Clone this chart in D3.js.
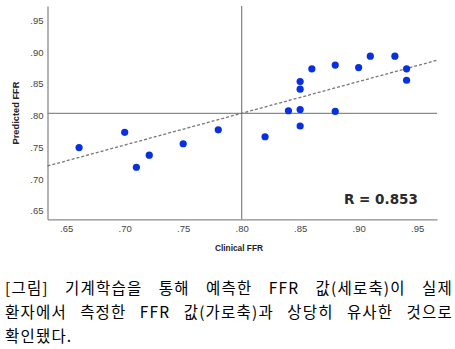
<!DOCTYPE html>
<html><head><meta charset="utf-8">
<script src="https://cdn.jsdelivr.net/npm/d3@7"></script>
<style>
html,body{margin:0;padding:0;background:#fff;}
svg{display:block;}
</style></head>
<body>
<svg id="chart" width="455" height="349"></svg>
<script>
// Data
const clinicalFFR  = [0.661,0.700,0.710,0.721,0.750,0.780,0.820,0.840,0.850,0.850,0.850,0.850,0.860,0.880,0.880,0.900,0.910,0.931,0.941,0.941];
const predictedFFR = [0.746,0.770,0.715,0.734,0.752,0.774,0.763,0.804,0.780,0.806,0.838,0.850,0.870,0.876,0.803,0.872,0.890,0.890,0.870,0.852];
const fitCoef = [0.40, 0.50]; // intercept, slope
const xTicks = [0.65,0.70,0.75,0.80,0.85,0.90,0.95];
const yTicks = [0.65,0.70,0.75,0.80,0.85,0.90,0.95];
const refValue = [0.80, 0.80];
const rLabel = "R = 0.853";
const xTitle = "Clinical FFR";
const yTitle = "Predicted FFR";
const captionLines = [
  "[그림] 기계학습을 통해 예측한 FFR 값(세로축)이 실제",
  "환자에서 측정한 FFR 값(가로축)과 상당히 유사한 것으로",
  "확인됐다."
];

const svg = d3.select("#chart");
const x = d3.scaleLinear().domain([0.634, 0.967]).range([47.5, 437]);
const y = d3.scaleLinear().domain([0.633, 0.969]).range([219.3, 6]);
const fmt = d => d3.format(".2f")(d).replace(/^0/, "");
const axisColor = "#8a8a8a";

// reference lines
svg.append("line").attr("x1", x(x.domain()[0])).attr("x2", x(x.domain()[1]))
  .attr("y1", y(refValue[1])).attr("y2", y(refValue[1]))
  .attr("stroke", axisColor).attr("stroke-width", 1.3);
svg.append("line").attr("x1", x(refValue[0])).attr("x2", x(refValue[0]))
  .attr("y1", y(y.domain()[0])).attr("y2", y(y.domain()[1]))
  .attr("stroke", axisColor).attr("stroke-width", 1.3);

// axes
const ga = svg.append("g").attr("transform", `translate(${x.range()[0]},0)`)
  .call(d3.axisLeft(y).tickValues(yTicks).tickFormat(fmt).tickSize(0).tickPadding(4));
const gb = svg.append("g").attr("transform", `translate(0,${y.range()[0]})`)
  .call(d3.axisBottom(x).tickValues(xTicks).tickFormat(fmt).tickSize(0).tickPadding(6));
[ga, gb].forEach(g => {
  g.select(".domain").attr("stroke", axisColor).attr("stroke-width", 1.3);
  g.selectAll("text").attr("fill", "#444").style("font-family", "'Liberation Sans', Arial, sans-serif").style("font-size", "9.5px");
});
ga.selectAll("text").attr("dy", "0.55em");

// fit line
const xd = x.domain();
svg.append("line")
  .attr("x1", x(xd[0])).attr("y1", y(fitCoef[0] + fitCoef[1]*xd[0]))
  .attr("x2", x(xd[1])).attr("y2", y(fitCoef[0] + fitCoef[1]*xd[1]))
  .attr("stroke", "#777").attr("stroke-width", 1.3).attr("stroke-dasharray", "3,2");

// points
svg.append("g").selectAll("circle").data(clinicalFFR.map((v,i)=>[v,predictedFFR[i]]))
  .join("circle").attr("cx", d => x(d[0])).attr("cy", d => y(d[1])).attr("r", 3.6)
  .attr("fill", "#0630e0");

// R label
svg.append("text").attr("x", 344).attr("y", 204).text(rLabel)
  .style("font-family", "'DejaVu Sans', Verdana, sans-serif").style("font-size", "13.5px")
  .style("font-weight", "bold").attr("fill", "#2a2a2a");

// axis titles
svg.append("text").attr("x", 239).attr("y", 251).attr("text-anchor", "middle").text(xTitle)
  .style("font-family", "'Liberation Sans', Arial, sans-serif").style("font-size", "8.3px").style("font-weight", "bold").attr("fill", "#222");
svg.append("text").attr("transform", "translate(19,113) rotate(-90)").attr("text-anchor", "middle").text(yTitle)
  .style("font-family", "'Liberation Sans', Arial, sans-serif").style("font-size", "9.3px").style("font-weight", "bold").attr("fill", "#222");

// caption (justified by word spacing)
const cap = svg.append("g").style("font-family", "'Noto Sans CJK KR', sans-serif")
  .style("font-size", "15.5px").attr("fill", "#000");
captionLines.forEach((t, i) => {
  const el = cap.append("text").attr("x", 5).attr("y", 294 + i*24)
    .style("letter-spacing", "1.2px").text(t);
  if (i < 2) {
    const w = el.node().getBBox().width;
    const n = (t.match(/ /g) || []).length;
    el.style("word-spacing", Math.max(0, (448 - w) / n) + "px");
  }
});
</script>
</body></html>
